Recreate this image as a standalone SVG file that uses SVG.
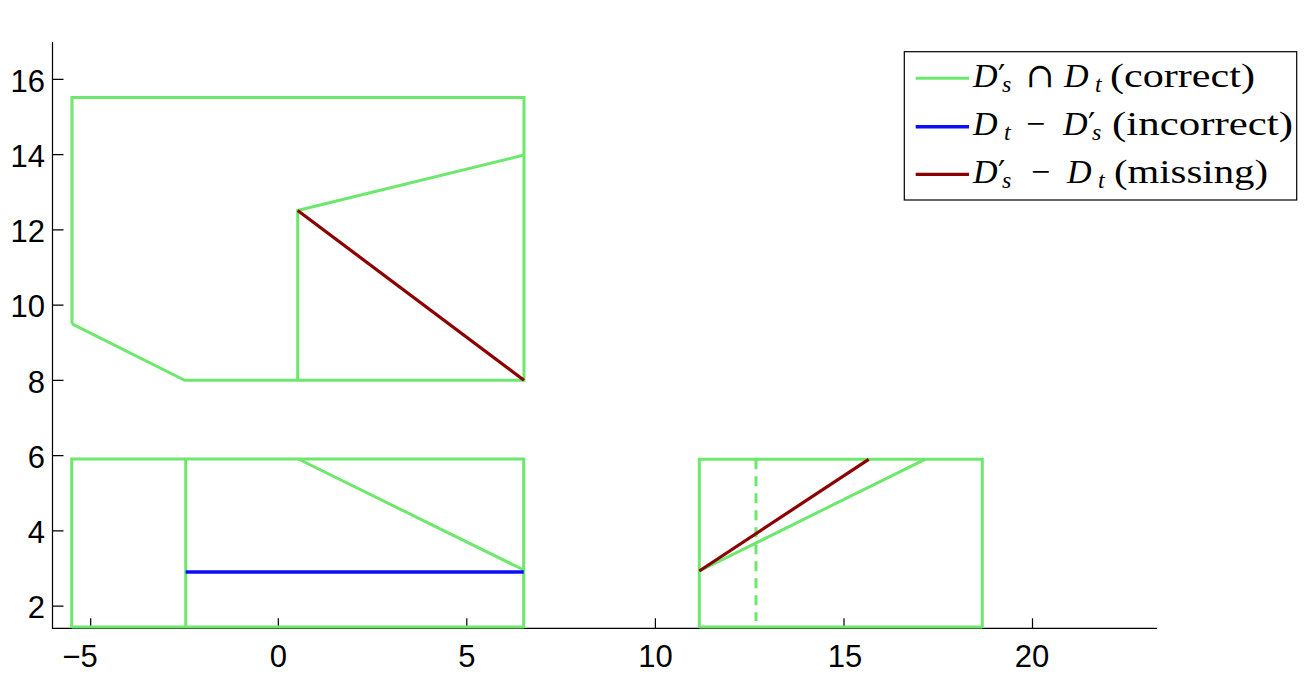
<svg xmlns="http://www.w3.org/2000/svg" width="1304" height="687" viewBox="0 0 1304 687">
<style>
.ax{stroke:#000;stroke-width:1.2;fill:none}
.tk{font-family:"Liberation Sans",Arial,sans-serif;font-size:31px;fill:#000}
.g{stroke:#6de86d;stroke-width:3;fill:none;stroke-linecap:butt}
.r{stroke:#8b0000;stroke-width:3.2;fill:none}
.b{stroke:#0c0cf5;stroke-width:3.6;fill:none}
.m{font-family:"Liberation Serif","DejaVu Serif",serif;font-size:34px;fill:#000;font-weight:normal}
.i{font-style:italic}
.sb{font-size:24px;font-style:italic}
.pr{font-size:32px;font-family:"DejaVu Serif",serif}
.op{font-size:34px;font-family:"DejaVu Serif",serif}
</style>
<rect width="1304" height="687" fill="#fff"/>
<g id="axes">
<path class="ax" d="M52.5,42V628.3H1157"/>
<path class="ax" d="M52.5,79.3h11M52.5,154.6h11M52.5,229.9h11M52.5,305.2h11M52.5,380.3h11M52.5,455.6h11M52.5,530.9h11M52.5,606.2h11"/>
<path class="ax" d="M90.7,628.3v-10M278.3,628.3v-10M466.8,628.3v-10M655.4,628.3v-10M844,628.3v-10M1032.5,628.3v-10"/>
<g class="tk" text-anchor="end">
<text x="45" y="91.5">16</text>
<text x="45" y="166.8">14</text>
<text x="45" y="242.1">12</text>
<text x="45" y="317.4">10</text>
<text x="45" y="392.5">8</text>
<text x="45" y="467.8">6</text>
<text x="45" y="543.1">4</text>
<text x="45" y="618.4">2</text>
</g>
<g class="tk" text-anchor="middle">
<text x="80" y="667">−5</text>
<text x="278.3" y="667">0</text>
<text x="466.8" y="667">5</text>
<text x="655.4" y="667">10</text>
<text x="845" y="667">15</text>
<text x="1032" y="667">20</text>
</g>
</g>
<g id="connectors">
<g id="upper-shape">
<path class="g" d="M72,323.8V97.5H524V380.3H184.7L72,323.8"/>
<path class="g" d="M297.7,380.3V210.5L524,155"/>
<path class="r" d="M297.7,210.5L524,380.3"/>
</g>
<g id="lower-left-shape">
<path class="g" d="M71.7,628V459H523.7V628"/>
<path class="g" d="M71.7,627H523.7"/>
<path class="g" d="M185.7,628V459"/>
<path class="g" d="M298.3,459L523.7,570"/>
<path class="b" d="M185.7,572H523.7"/>
</g>
<g id="lower-right-shape">
<path class="g" d="M699.3,628V459.3H982.3V628"/>
<path class="g" d="M699.3,627H982.3"/>
<path class="g" d="M756,459.3V621" stroke-dasharray="10,7"/>
<path class="g" d="M699.3,571L925,459.3"/>
<path class="r" d="M699.3,571L868.7,459.3"/>
</g>
</g>
<g id="legend">
<rect x="904.3" y="51.7" width="392.4" height="148.3" fill="#fff" stroke="#000" stroke-width="1.2"/>
<path class="g" d="M915.7,78.3H969"/>
<path class="b" d="M915.7,126.7H969"/>
<path class="r" d="M915.7,174.3H969"/>
<text class="m" x="973" y="87"><tspan class="i">D</tspan><tspan class="pr" x="998" y="87">′</tspan><tspan class="sb" x="1002" y="92">s</tspan><tspan class="op" x="1026" y="87">∩</tspan><tspan class="i" x="1064" y="87">D</tspan><tspan class="sb" x="1095" y="92">t</tspan><tspan x="1110" y="87" textLength="145" lengthAdjust="spacingAndGlyphs">(correct)</tspan></text>
<text class="m" x="973" y="134.5"><tspan class="i">D</tspan><tspan class="sb" x="1004" y="140">t</tspan><tspan x="1026" y="134.5">−</tspan><tspan class="i" x="1063" y="134.5">D</tspan><tspan class="pr" x="1088" y="134.5">′</tspan><tspan class="sb" x="1092" y="140">s</tspan><tspan x="1112" y="134.5" textLength="181" lengthAdjust="spacingAndGlyphs">(incorrect)</tspan></text>
<text class="m" x="973" y="182.5"><tspan class="i">D</tspan><tspan class="pr" x="998" y="182.5">′</tspan><tspan class="sb" x="1002" y="188">s</tspan><tspan x="1031" y="182.5">−</tspan><tspan class="i" x="1067" y="182.5">D</tspan><tspan class="sb" x="1098" y="188">t</tspan><tspan x="1114" y="182.5" textLength="154" lengthAdjust="spacingAndGlyphs">(missing)</tspan></text>
</g>
</svg>
